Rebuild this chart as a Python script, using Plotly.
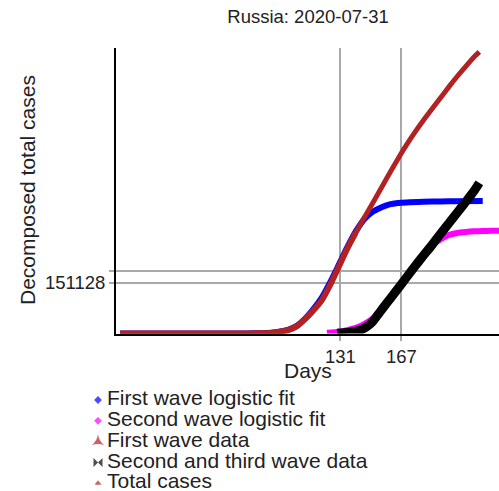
import plotly.graph_objects as go

# ---------------- data ----------------
title_text = "Russia: 2020-07-31"
x_title = "Days"
y_title = "Decomposed total cases"

legend_labels = ["First wave logistic fit", "Second wave logistic fit", "First wave data",
                 "Second and third wave data", "Total cases"]

# total confirmed cases
days_total = [1, 30, 60, 70, 75, 80, 85, 90, 95, 100, 105, 110, 115, 120, 125, 130, 135, 140,
              145, 150, 155, 160, 165, 170, 175, 180, 185, 190, 195, 200, 205, 210, 213]
total_cases = [0, 2, 3, 20, 60, 250, 650, 1800, 5400, 10100, 21100, 42900, 68600, 99400,
               145300, 198700, 252200, 299900, 344500, 387600, 432300, 476700, 520100,
               561100, 598900, 634400, 667900, 700800, 733700, 765400, 795000, 823500, 838000]

# first wave data (coincides with total cases)
days_first_data = [1, 30, 60, 70, 75, 80, 85, 90, 95, 100, 105, 110, 115, 120, 125, 130, 135, 140]
first_wave_data = [0, 2, 3, 20, 60, 250, 650, 1800, 5400, 10100, 21100, 42900, 68600, 99400,
                   145300, 198700, 252200, 299900]

# first wave logistic fit
days_fit1 = [1, 60, 70, 80, 85, 90, 95, 100, 105, 110, 115, 120, 125, 130, 135, 140, 145,
             150, 155, 160, 165, 170, 180, 190, 200, 215]
fit1 = [0, 0, 50, 400, 900, 2200, 5500, 11000, 22000, 43500, 72500, 107000, 153000, 204000,
        256000, 303000, 340000, 362000, 375000, 384000, 388000, 390000, 392000, 393000,
        393500, 394000]

# second wave logistic fit
days_fit2 = [123, 127, 130, 135, 140, 145, 150, 155, 160, 165, 170, 175, 180, 185, 190, 195,
             200, 205, 210, 215, 220, 230, 240]
fit2 = [2000, 3500, 5500, 10000, 17000, 28000, 44000, 67000, 96000, 131000, 168000, 205000,
        238000, 263000, 280000, 293000, 299000, 302000, 304000, 305000, 305500, 306000, 306000]

# second and third wave data
days_second = [129, 132, 135, 138, 141, 144, 147, 150, 153, 156, 160, 165, 170, 175, 180, 185,
               190, 195, 200, 205, 210, 213]
second_wave = [500, 1500, 3000, 5000, 8000, 13000, 22000, 35000, 55000, 75000, 101000, 134000,
               167000, 200000, 232000, 263000, 296000, 328000, 360000, 392000, 425000, 448000]

# reference lines / ticks
x_tick_vals = [131, 167]
y_tick_vals = [186000, 151128]
y_tick_text = ["", "151128"]

# ---------------- styling ----------------
W, H = 499, 491
FONT = "Liberation Sans, Arial, Helvetica, sans-serif"
TXT = "#222222"
colors = ["#0000ff", "#ff00ff", "#b22222", "#000000", "#b22222"]
widths = [6, 6, 6, 9, 5]
symbols = ["diamond", "diamond", "star-triangle-up", "bowtie", "triangle-up"]
msizes = [6, 6, 9, 9, 6]

# plot area in pixels
PL, PR, PT, PB = 116, 499, 48, 333.5

fig = go.Figure()
series = [(days_fit1, fit1), (days_fit2, fit2), (days_first_data, first_wave_data),
          (days_second, second_wave), (days_total, total_cases)]
for i, (xs, ys) in enumerate(series):
    fig.add_trace(go.Scatter(x=xs, y=ys, mode="lines", name=legend_labels[i],
                             line=dict(color=colors[i], width=widths[i], shape="spline", smoothing=0.6),
                             showlegend=False))

# manual compact legend below the plot
LEG_TOP = 385
n = len(legend_labels)
leg_y = [15 + 20.8 * i for i in range(n)]
fig.add_trace(go.Scatter(
    x=[98] * n, y=leg_y, mode="markers",
    marker=dict(symbol=symbols, color=colors, size=msizes, line=dict(width=0)),
    xaxis="x2", yaxis="y2", showlegend=False, hoverinfo="skip"))
fig.add_trace(go.Scatter(
    x=[107] * n, y=leg_y, mode="text", text=legend_labels,
    textposition="middle right", textfont=dict(size=21, color=TXT, family=FONT),
    xaxis="x2", yaxis="y2", showlegend=False, hoverinfo="skip"))

fig.update_layout(
    width=W, height=H,
    margin=dict(l=0, r=0, t=0, b=0),
    paper_bgcolor="white", plot_bgcolor="rgba(0,0,0,0)",
    font=dict(family=FONT, color=TXT),
    showlegend=False,
    title=dict(text=title_text, x=308 / W, y=1 - 17 / H, xanchor="center", yanchor="middle",
               font=dict(size=18.5, color=TXT, family=FONT)),
    xaxis=dict(domain=[PL / W, 1], range=[-1.5, 224.6], tickvals=x_tick_vals,
               ticktext=[str(v) for v in x_tick_vals], showgrid=True, gridcolor="#a9a9a9",
               gridwidth=1.5, zeroline=False, showline=True, linecolor="black", linewidth=2,
               ticks="outside", ticklen=5, tickcolor="#a9a9a9", tickwidth=1.5,
               tickfont=dict(size=18.5, color=TXT), automargin=False, anchor="y"),
    yaxis=dict(domain=[(H - PB) / H, (H - PT) / H], range=[0, 849400], tickvals=y_tick_vals,
               ticktext=y_tick_text, showgrid=True, gridcolor="#a9a9a9", gridwidth=1.5,
               zeroline=False, showline=True, linecolor="black", linewidth=2,
               ticks="outside", ticklen=5, tickcolor="#a9a9a9", tickwidth=1.5,
               tickfont=dict(size=18.5, color=TXT), automargin=False, anchor="x"),
    xaxis2=dict(domain=[0, 1], range=[0, W], visible=False, anchor="y2", fixedrange=True),
    yaxis2=dict(domain=[0, (H - LEG_TOP) / H], range=[H - LEG_TOP, 0], visible=False,
                anchor="x2", fixedrange=True),
    annotations=[
        dict(text=x_title, x=308 / W, y=1 - 370 / H, xref="paper", yref="paper",
             showarrow=False, font=dict(size=21, color=TXT, family=FONT),
             xanchor="center", yanchor="middle"),
        dict(text=y_title, x=28 / W, y=1 - 190 / H, xref="paper", yref="paper",
             showarrow=False, textangle=-90, font=dict(size=21, color=TXT, family=FONT),
             xanchor="center", yanchor="middle"),
    ],
)

fig.write_html("out.html", config={"displayModeBar": False},
               post_script="document.body.style.margin='0';document.body.style.overflow='hidden';")
